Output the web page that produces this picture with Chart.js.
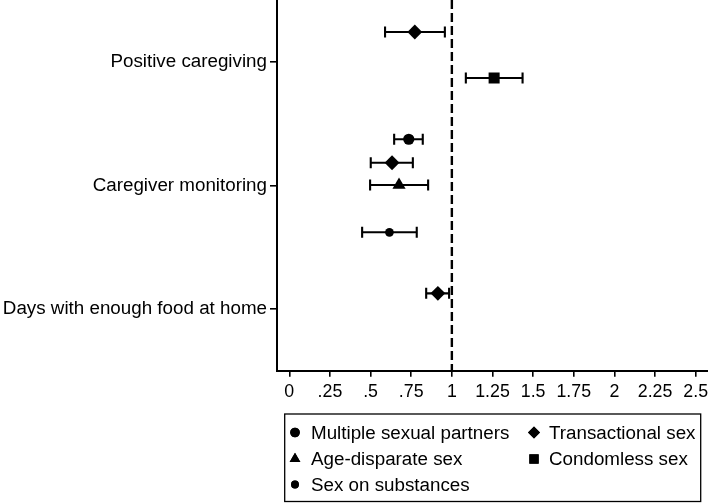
<!DOCTYPE html>
<html>
<head>
<meta charset="utf-8">
<script src="https://cdn.jsdelivr.net/npm/chart.js@4.4.1/dist/chart.umd.min.js"></script>
<style>
  html, body { margin: 0; padding: 0; background: #fff; }
  #wrap { width: 708px; height: 503px; position: relative; }
</style>
</head>
<body>
<div id="wrap"><canvas id="c" width="708" height="503"></canvas></div>
<script>
// ---- Data ----
const categories = ['Positive caregiving', 'Caregiver monitoring', 'Days with enough food at home'];
const categoryPos = [3, 2, 1];
const xTicks = [0, 0.25, 0.5, 0.75, 1, 1.25, 1.5, 1.75, 2, 2.25, 2.5];
const xTickLabels = ['0', '.25', '.5', '.75', '1', '1.25', '1.5', '1.75', '2', '2.25', '2.5'];

const seriesNames = ['Multiple sexual partners', 'Transactional sex', 'Age-disparate sex', 'Condomless sex', 'Sex on substances'];

// estimates, lower CI, upper CI, vertical position
const multipleEst = [0.735];
const multipleLo  = [0.645];
const multipleHi  = [0.821];
const multipleY   = [2.373];

const transEst = [0.772, 0.632, 0.914];
const transLo  = [0.589, 0.501, 0.842];
const transHi  = [0.957, 0.760, 0.983];
const transY   = [3.241, 2.183, 1.126];

const ageEst = [0.675];
const ageLo  = [0.497];
const ageHi  = [0.854];
const ageY   = [2.003];

const condEst = [1.260];
const condLo  = [1.086];
const condHi  = [1.435];
const condY   = [2.869];

const substEst = [0.616];
const substLo  = [0.448];
const substHi  = [0.784];
const substY   = [1.620];

const refLine = 1;

// ---- Build datasets ----
function pts(est, lo, hi, y) {
  return est.map((v, i) => ({ x: v, y: y[i], lo: lo[i], hi: hi[i] }));
}
const styles = [
  { pointStyle: 'circle',   radius: 5.6 },
  { pointStyle: 'rectRot',  radius: 7.4 },
  { pointStyle: 'triangle', radius: 7.6 },
  { pointStyle: 'rect',     radius: 7.8 },
  { pointStyle: 'circle',   radius: 4.4 }
];
const seriesData = [
  pts(multipleEst, multipleLo, multipleHi, multipleY),
  pts(transEst, transLo, transHi, transY),
  pts(ageEst, ageLo, ageHi, ageY),
  pts(condEst, condLo, condHi, condY),
  pts(substEst, substLo, substHi, substY)
];
const datasets = seriesNames.map((name, i) => ({
  label: name,
  data: seriesData[i],
  pointStyle: styles[i].pointStyle,
  pointRadius: styles[i].radius,
  pointHoverRadius: styles[i].radius,
  backgroundColor: '#000',
  borderColor: '#000',
  borderWidth: 0,
  showLine: false
}));

const FONT = '"Liberation Sans", Arial, Helvetica, sans-serif';

const errorBars = {
  id: 'errorBars',
  beforeDatasetsDraw(chart) {
    const { ctx, scales: { x, y }, chartArea } = chart;
    ctx.save();
    // reference line
    ctx.strokeStyle = '#000';
    ctx.lineWidth = 2.4;
    ctx.setLineDash([9, 4]);
    const rx = x.getPixelForValue(refLine);
    ctx.beginPath();
    ctx.moveTo(rx, chartArea.top);
    ctx.lineTo(rx, chartArea.bottom);
    ctx.stroke();
    ctx.setLineDash([]);
    // error bars
    ctx.lineWidth = 2.1;
    chart.data.datasets.forEach(ds => {
      ds.data.forEach(p => {
        const py = y.getPixelForValue(p.y);
        const x1 = x.getPixelForValue(p.lo);
        const x2 = x.getPixelForValue(p.hi);
        ctx.beginPath();
        ctx.moveTo(x1, py); ctx.lineTo(x2, py);
        ctx.moveTo(x1, py - 5.5); ctx.lineTo(x1, py + 5.5);
        ctx.moveTo(x2, py - 5.5); ctx.lineTo(x2, py + 5.5);
        ctx.stroke();
      });
    });
    ctx.restore();
  }
};

const legendBox = {
  id: 'legendBox',
  afterDraw(chart) {
    const ctx = chart.ctx;
    ctx.save();
    ctx.strokeStyle = '#000';
    ctx.lineWidth = 1.3;
    ctx.strokeRect(284.7, 414, 416, 87.5);
    const rows = [432.5, 459, 484.5];
    const cols = [{ mx: 295, tx: 311 }, { mx: 534, tx: 549 }];
    const layout = [[0, 0], [0, 1], [1, 0], [1, 1], [2, 0]];
    const legendMarkers = [
      { style: 'circle', r: 4.8 },
      { style: 'rectRot', r: 6.0 },
      { style: 'triangle', r: 6.2 },
      { style: 'rect', r: 6.6 },
      { style: 'circle', r: 3.9 }
    ];
    ctx.fillStyle = '#000';
    ctx.font = '18.8px ' + FONT;
    ctx.textBaseline = 'middle';
    ctx.textAlign = 'left';
    seriesNames.forEach((name, i) => {
      const [r, c] = layout[i];
      const yy = rows[r];
      const m = legendMarkers[i];
      Chart.helpers.drawPoint(ctx, { pointStyle: m.style, radius: m.r, borderWidth: 0, rotation: 0 }, cols[c].mx, yy);
      ctx.fill();
      ctx.fillText(name, cols[c].tx, yy + 1);
    });
    ctx.restore();
  }
};

new Chart(document.getElementById('c'), {
  type: 'scatter',
  data: { datasets },
  options: {
    responsive: false,
    animation: false,
    devicePixelRatio: 1,
    layout: { autoPadding: false, padding: { left: 0, right: 0, top: 0, bottom: 0 } },
    plugins: {
      legend: { display: false },
      tooltip: { enabled: false },
      title: { display: false }
    },
    elements: { point: { backgroundColor: '#000', borderColor: '#000' } },
    scales: {
      x: {
        type: 'linear',
        min: -0.0757,
        max: 2.5757,
        afterBuildTicks(s) { s.ticks = xTicks.map(v => ({ value: v })); },
        afterFit(s) { s.height = 132.3; s.paddingLeft = 0; s.paddingRight = 0; },
        ticks: {
          autoSkip: false,
          maxRotation: 0,
          color: '#000',
          padding: 5,
          font: { family: FONT, size: 17.8 },
          callback(v, i) { return xTickLabels[i]; }
        },
        grid: { display: true, drawOnChartArea: false, drawTicks: true, tickLength: 6, color: '#000', lineWidth: 1.6 },
        border: { display: true, color: '#000', width: 2 }
      },
      y: {
        type: 'linear',
        min: 0.5,
        max: 3.5,
        afterBuildTicks(s) { s.ticks = categoryPos.map(v => ({ value: v })); },
        afterFit(s) { s.width = 277; s.paddingTop = 0; s.paddingBottom = 0; },
        ticks: {
          autoSkip: false,
          color: '#000',
          padding: 3,
          font: { family: FONT, size: 18.8 },
          callback(v, i) { return categories[categoryPos.indexOf(v)]; }
        },
        grid: { display: true, drawOnChartArea: false, drawTicks: true, tickLength: 7, color: '#000', lineWidth: 1.6 },
        border: { display: true, color: '#000', width: 2 }
      }
    }
  },
  plugins: [errorBars, legendBox]
});
</script>
</body>
</html>
